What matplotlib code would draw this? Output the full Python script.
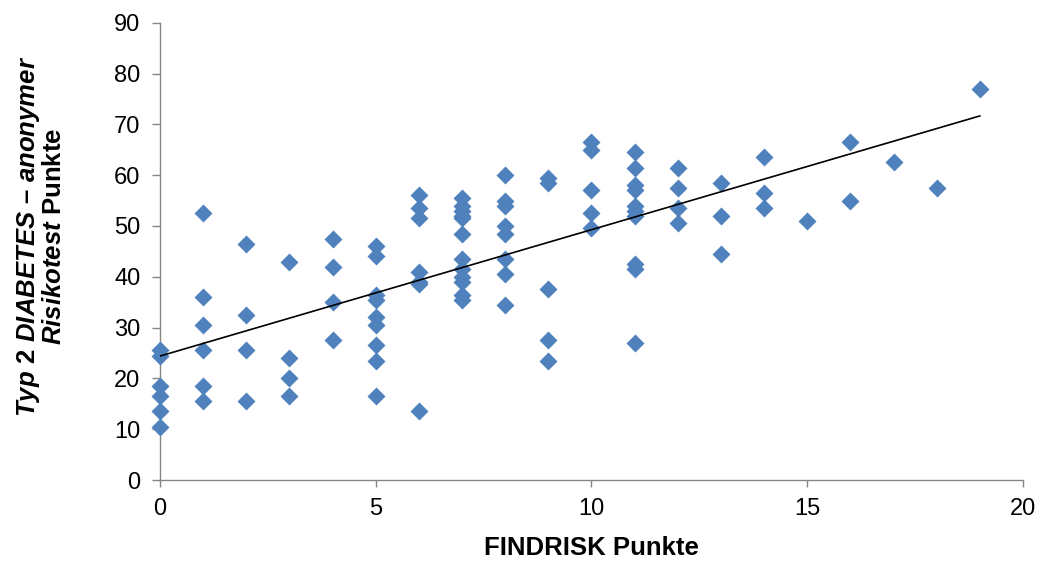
import numpy as np
import matplotlib
matplotlib.use("Agg")
import matplotlib.pyplot as plt

plt.rcParams['font.family'] = ['Liberation Sans', 'DejaVu Sans']
plt.rcParams['mathtext.fontset'] = 'custom'
plt.rcParams['mathtext.it'] = 'Liberation Sans:italic:bold'
plt.rcParams['mathtext.rm'] = 'Liberation Sans:bold'
plt.rcParams['mathtext.bf'] = 'Liberation Sans:bold'

# FINDRISK score (x) and anonymous risk test score (y)
findrisk = [0, 0, 0, 0, 0, 0,
            1, 1, 1, 1, 1, 1,
            2, 2, 2, 2,
            3, 3, 3, 3,
            4, 4, 4, 4,
            5, 5, 5, 5, 5, 5, 5, 5, 5,
            6, 6, 6, 6, 6, 6, 6,
            7, 7, 7, 7, 7, 7, 7, 7, 7, 7, 7, 7,
            8, 8, 8, 8, 8, 8, 8, 8,
            9, 9, 9, 9, 9,
            10, 10, 10, 10, 10,
            11, 11, 11, 11, 11, 11, 11, 11, 11, 11,
            12, 12, 12, 12,
            13, 13, 13,
            14, 14, 14,
            15,
            16, 16,
            17,
            18,
            19]
risikotest = [25.5, 24.5, 18.5, 16.5, 13.5, 10.5,
              52.5, 36, 30.5, 25.5, 18.5, 15.5,
              46.5, 32.5, 25.5, 15.5,
              43, 24, 20, 16.5,
              47.5, 42, 35, 27.5,
              46, 44, 36.5, 35.5, 32, 30.5, 26.5, 23.5, 16.5,
              56, 53.5, 51.5, 41, 39, 38.5, 13.5,
              55.5, 54, 53, 52, 51.5, 48.5, 43.5, 41.5, 40, 39, 36.5, 35.5,
              60, 55, 54, 50, 48.5, 43.5, 40.5, 34.5,
              59.5, 58.5, 37.5, 27.5, 23.5,
              66.5, 65, 57, 52.5, 49.5,
              64.5, 61.5, 58, 57, 54, 53, 52, 42.5, 41.5, 27,
              61.5, 57.5, 53.5, 50.5,
              58.5, 52, 44.5,
              63.5, 56.5, 53.5,
              51,
              66.5, 55,
              62.5,
              57.5,
              77]

x = np.array(findrisk, dtype=float)
y = np.array(risikotest, dtype=float)

fig = plt.figure(figsize=(10.43, 5.62), dpi=100)
ax = fig.add_axes([0.1534, 0.1459, 0.9808 - 0.1534, 0.9596 - 0.1459])

ax.plot(x, y, linestyle='none', marker='D', markersize=8.8,
        markerfacecolor='#4F81BD', markeredgecolor='none', zorder=3,
        clip_on=False)

# linear trend line over the data range
slope, intercept = np.polyfit(x, y, 1)
xl = np.array([x.min(), x.max()])
ax.plot(xl, slope * xl + intercept, color='black', linewidth=1.2, zorder=4)

ax.set_xlim(0, 20)
ax.set_ylim(0, 90)
ax.set_xticks(np.arange(0, 21, 5))
ax.set_yticks(np.arange(0, 91, 10))

for side in ['top', 'right']:
    ax.spines[side].set_visible(False)
for side in ['left', 'bottom']:
    ax.spines[side].set_color('#868686')
    ax.spines[side].set_linewidth(1.0)
ax.spines['left'].set_zorder(1)
ax.spines['bottom'].set_zorder(1)
ax.tick_params(axis='both', colors='#868686', width=1.0,
               labelsize=17, labelcolor='black', direction='out')
ax.tick_params(axis='y', length=6, pad=8)
ax.tick_params(axis='x', length=5, pad=8)

ax.set_xlabel('FINDRISK Punkte', fontsize=18.5, fontweight='bold')
ax.xaxis.set_label_coords(0.5, -0.149)
ax.xaxis.label.set_va('center')
ax.set_ylabel('$\\mathit{Typ\\ 2\\ DIABETES\\ –\\ anonymer}$\n'
              '$\\mathit{Risikotest}$ Punkte',
              fontsize=18.5, fontweight='bold', linespacing=1.0)
ax.yaxis.set_label_coords(-0.138, 0.533)
ax.yaxis.label.set_va('center')

fig.savefig('out.png', dpi=100)
